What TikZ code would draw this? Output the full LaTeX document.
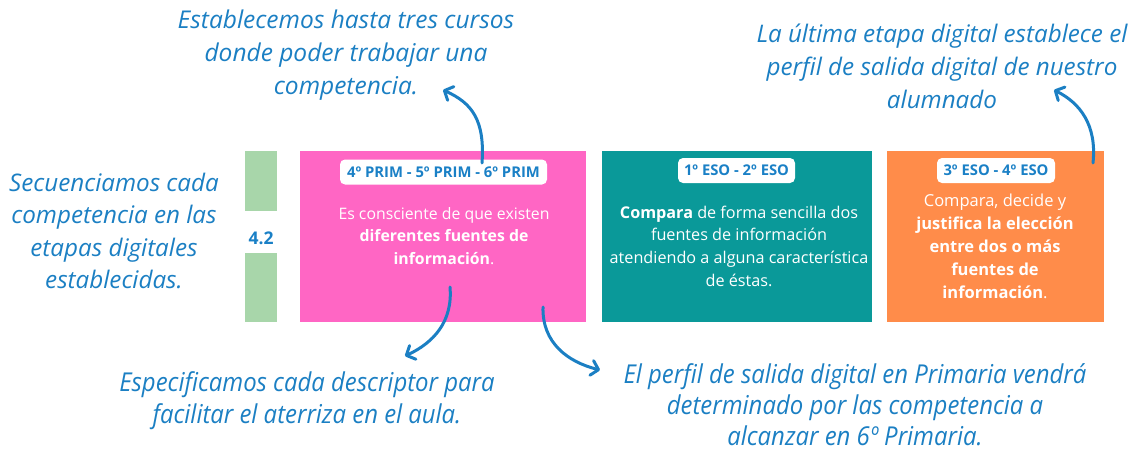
\documentclass[tikz,border=0pt]{standalone}
\usepackage{fontspec}
\setmainfont{Open Sans}
\newfontfamily\condit[FakeStretch=0.92]{Open Sans}
\usetikzlibrary{arrows.meta}
\definecolor{annblue}{HTML}{1B7FC3}
\definecolor{pinkbox}{HTML}{FF66C4}
\definecolor{tealbox}{HTML}{0A9999}
\definecolor{orangebox}{HTML}{FF8C4A}
\definecolor{greenbar}{HTML}{A8D6AA}
\definecolor{pilltext}{HTML}{1A80C6}
\tikzset{
  ann/.style={text=annblue, align=center, inner sep=0pt, font=\itshape\fontsize{24.5}{33}\selectfont},
  anncond/.style={text=annblue, align=center, inner sep=0pt, font=\condit\itshape\fontsize{26}{32}\selectfont},
  stagebox/.style={draw=none, minimum height=171pt, inner sep=0pt},
  pill/.style={fill=white, rounded corners=5pt, text=pilltext, font=\bfseries\fontsize{14.8}{16}\selectfont, inner sep=0pt, minimum height=25pt},
  boxtext/.style={text=white, align=center, inner sep=0pt, font=\fontsize{15.8}{22.5}\selectfont},
  curvearrow/.style={draw=annblue, line width=3pt, line cap=round, -{Straight Barb[length=7pt,width=15pt,line cap=round,line join=round]}},
}
\begin{document}
\begin{tikzpicture}[x=1pt,y=-1pt]
\useasboundingbox (0,0) rectangle (1134,452);
% green bar
\fill[greenbar] (245,151) rectangle (277,211);
\fill[greenbar] (245,253) rectangle (277,322);
\node[text=pilltext, font=\bfseries\fontsize{17.5}{18}\selectfont, inner sep=0pt] (num) at (261,238) {4.2};
% boxes
\node[stagebox, fill=pinkbox, minimum width=286pt] (pink) at (443,236.5) {};
\node[stagebox, fill=tealbox, minimum width=270pt] (teal) at (737,236.5) {};
\node[stagebox, fill=orangebox, minimum width=217pt] (orange) at (995.5,236.5) {};
% pills
\node[pill, minimum width=207pt] (pillA) at (443.5,172) {4º PRIM - 5º PRIM - 6º PRIM};
\node[pill, minimum width=117pt] (pillB) at (736.5,170.5) {1º ESO - 2º ESO};
\node[pill, minimum width=118pt] (pillC) at (996,170.5) {3º ESO - 4º ESO};
% box texts
\node[boxtext] (txtA) at (444,236) {Es consciente de que existen\\\textbf{diferentes fuentes de}\\\textbf{información}.};
\node[boxtext, font=\fontsize{16.2}{22.7}\selectfont] (txtB) at (739,246) {\textbf{Compara} de forma sencilla dos\\fuentes de información\\atendiendo a alguna característica\\de éstas.};
\node[boxtext, font=\fontsize{16.5}{23}\selectfont] (txtC) at (995,246) {Compara, decide y\\\textbf{justifica la elección}\\\textbf{entre dos o más}\\\textbf{fuentes de}\\\textbf{información}.};
% annotations
\node[ann] (annTop) at (346,55) {Establecemos hasta tres cursos\\donde poder trabajar una\\competencia.};
\node[ann, font=\itshape\fontsize{24.2}{32.5}\selectfont] (annLeft) at (114,231) {Secuenciamos cada\\competencia en las\\etapas digitales\\establecidas.};
\node[ann, font=\itshape\fontsize{24.2}{33}\selectfont] (annTR) at (942,66) {La última etapa digital establece el\\perfil de salida digital de nuestro\\alumnado};
\node[anncond] (annBL) at (307,401) {Especificamos cada descriptor para\\facilitar el aterriza en el aula.};
\node[anncond, font=\condit\itshape\fontsize{26}{31}\selectfont] (annBR) at (855,405) {El perfil de salida digital en Primaria vendrá\\determinado por las competencia a\\alcanzar en 6º Primaria.};
% arrow end points
\coordinate (a1s) at (482,163);
\coordinate (a1e) at (443,90);
\coordinate (a2s) at (1093,163);
\coordinate (a2e) at (1054,90);
\coordinate (a3s) at (450,287);
\coordinate (a3e) at (405,356);
\coordinate (a4s) at (543,307);
\coordinate (a4e) at (600,370);
\draw[curvearrow] (a1s) .. controls (485,120) and (472,103) .. (a1e);
\draw[curvearrow] (a2s) .. controls (1097,125) and (1080,103) .. (a2e);
\draw[curvearrow] (a3s) .. controls (453,322) and (433,343) .. (a3e);
\draw[curvearrow] (a4s) .. controls (542,343) and (568,362) .. (a4e);
\end{tikzpicture}
\end{document}
